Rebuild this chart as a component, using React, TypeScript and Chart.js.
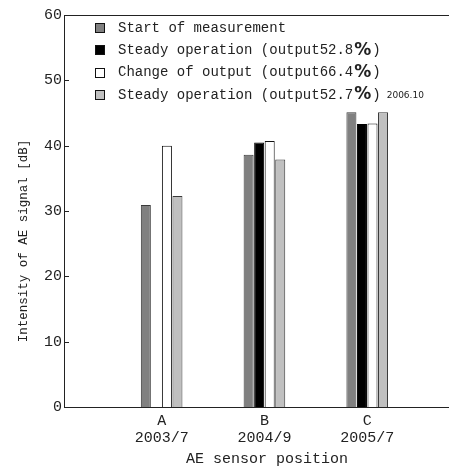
import React, { useEffect, useRef } from "react";
import { Chart, registerables } from "chart.js";

Chart.register(...registerables);

const categories = ["A", "B", "C"];
const dates = ["2003/7", "2004/9", "2005/7"];
const seriesLabels = [
  "Start of measurement",
  "Steady operation (output52.8%)",
  "Change of output (output66.4%)",
  "Steady operation (output52.7%)",
];
const legendNote = "2006.10";
const startValues = [30.9, 38.6, 45.1];
const steady528Values: (number | null)[] = [null, 40.5, 43.3];
const changeValues = [40.0, 40.7, 43.4];
const steady527Values = [32.3, 37.9, 45.1];
const yTicks = { min: 0, max: 60, step: 10 };
const yTitle = "Intensity of AE signal [dB]";
const xTitle = "AE sensor position";

const fills = ["#808080", "#000000", "#ffffff", "#c0c0c0"];
const borders = ["#3a3a3a", "#000000", "#111111", "#3a3a3a"];
const MONO = "'Liberation Mono', 'DejaVu Sans Mono', monospace";
const INK = "#222222";

const decorPlugin = {
  id: "decor",
  afterDraw(chart: any) {
    const { ctx, chartArea } = chart;
    const y = chart.scales.y;
    ctx.save();
    ctx.strokeStyle = INK;
    ctx.lineWidth = 1;
    ctx.beginPath();
    ctx.moveTo(chartArea.left, Math.round(chartArea.top) + 0.5);
    ctx.lineTo(chartArea.right, Math.round(chartArea.top) + 0.5);
    ctx.stroke();
    y.ticks.forEach((t: any) => {
      const py = Math.round(y.getPixelForValue(t.value)) + 0.5;
      ctx.beginPath();
      ctx.moveTo(chartArea.left, py);
      ctx.lineTo(chartArea.left + 5, py);
      ctx.stroke();
    });
    ctx.fillStyle = INK;
    ctx.translate(24, 241);
    ctx.rotate(-Math.PI / 2);
    ctx.textAlign = "center";
    ctx.textBaseline = "middle";
    ctx.font = `12.5px ${MONO}`;
    ctx.fillText(yTitle, 0, 0);
    ctx.restore();

    ctx.save();
    chart.data.datasets.forEach((ds: any, i: number) => {
      const cy = 28 + i * 22.3;
      ctx.fillStyle = ds.backgroundColor;
      ctx.strokeStyle = "#111";
      ctx.lineWidth = 1;
      ctx.fillRect(95.5, Math.round(cy) - 4.5, 9, 9);
      ctx.strokeRect(95.5, Math.round(cy) - 4.5, 9, 9);
      ctx.fillStyle = INK;
      ctx.textBaseline = "middle";
      ctx.textAlign = "left";
      let x = 118;
      const parts = String(ds.label).split("%");
      parts.forEach((p: string, k: number) => {
        ctx.font = `14px ${MONO}`;
        ctx.fillText(p, x, cy);
        x += ctx.measureText(p).width;
        if (k < parts.length - 1) {
          ctx.font = `bold 17px 'DejaVu Sans', sans-serif`;
          ctx.fillText("%", x + 1, cy);
          x += ctx.measureText("%").width + 2;
        }
      });
      if (i === chart.data.datasets.length - 1) {
        ctx.font = `9px 'DejaVu Sans', sans-serif`;
        ctx.fillText(legendNote, x + 6, cy + 1);
      }
    });
    ctx.restore();
  },
};

export default function App() {
  const ref = useRef<HTMLCanvasElement | null>(null);
  useEffect(() => {
    if (!ref.current) return;
    const series = [startValues, steady528Values, changeValues, steady527Values];
    const chart = new Chart(ref.current, {
      type: "bar",
      data: {
        datasets: series.map((vals, i) => ({
          label: seriesLabels[i],
          data: vals.map((v, j) => ({ x: j + 1, y: v })),
          backgroundColor: fills[i],
          borderColor: borders[i],
          borderWidth: 1,
          categoryPercentage: 0.41,
          barPercentage: 0.95,
        })),
      },
      options: {
        responsive: false,
        animation: false,
        layout: { padding: { left: 0, right: 10, top: 15, bottom: 0 } },
        plugins: { legend: { display: false }, tooltip: { enabled: false } },
        scales: {
          x: {
            type: "linear",
            offset: false,
            bounds: "data",
            min: 0.05,
            max: 4,
            grid: { display: false, offset: false, drawTicks: false },
            border: { display: true, color: INK, width: 1 },
            afterBuildTicks: (scale: any) => {
              scale.ticks = categories.map((_, i) => ({ value: i + 1 }));
            },
            afterFit: (scale: any) => {
              scale.height = 62;
            },
            ticks: {
              padding: 6,
              color: INK,
              font: { family: MONO, size: 15, lineHeight: 1.1 },
              maxRotation: 0,
              autoSkip: false,
              callback: (v: any) => {
                const i = Math.round(Number(v)) - 1;
                return [categories[i], dates[i]];
              },
            },
            title: {
              display: true,
              text: xTitle,
              color: INK,
              font: { family: MONO, size: 15, lineHeight: 1.2 },
              padding: { top: 0, bottom: 1 },
            },
          },
          y: {
            min: yTicks.min,
            max: yTicks.max,
            grid: { display: false, drawTicks: false },
            border: { display: true, color: INK, width: 1 },
            afterFit: (scale: any) => {
              scale.width = 64;
            },
            ticks: {
              stepSize: yTicks.step,
              padding: 2,
              color: INK,
              font: { family: MONO, size: 15 },
            },
          },
        },
      },
      plugins: [decorPlugin],
    } as any);
    return () => chart.destroy();
  }, []);
  return (
    <div style={{ position: "fixed", left: 0, top: 0, width: 449, height: 469, overflow: "hidden", background: "#fff" }}>
      <canvas ref={ref} width={480} height={469} style={{ position: "absolute", left: 0, top: 0, width: 480, height: 469 }} />
    </div>
  );
}
